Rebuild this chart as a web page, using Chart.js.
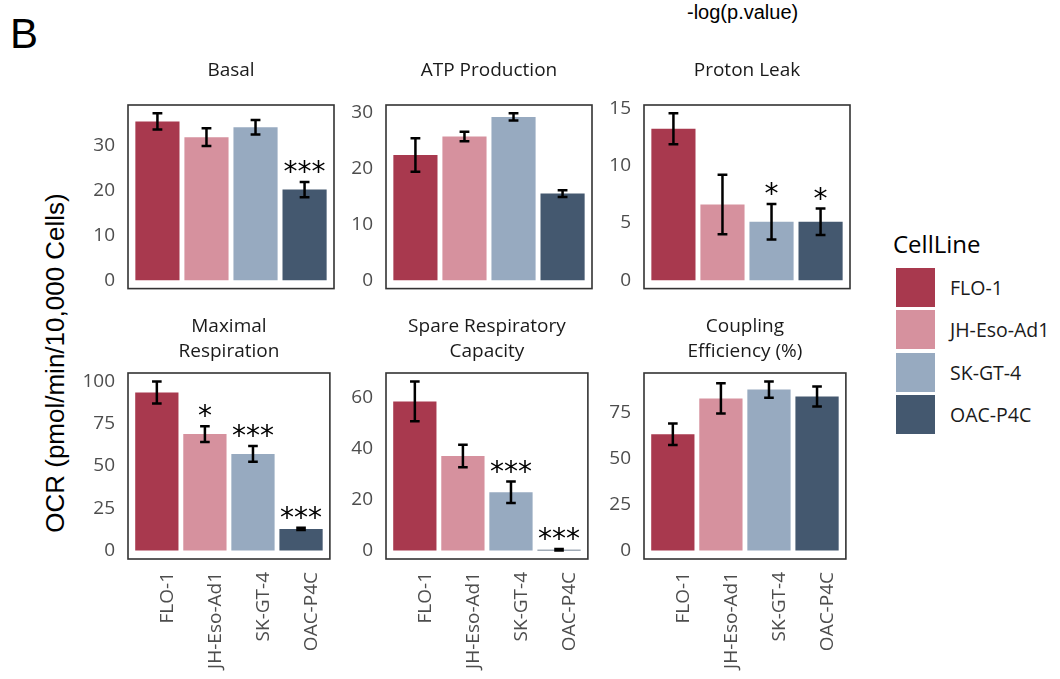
<!DOCTYPE html>
<html>
<head>
<meta charset="utf-8">
<script src="https://cdn.jsdelivr.net/npm/chart.js@4.4.1/dist/chart.umd.min.js"></script>
<style>
  body { margin: 0; width: 1060px; height: 679px; background: #fff; position: relative; overflow: hidden; }
  canvas, .txt { position: absolute; }
  .txt { line-height: 1; white-space: nowrap; color: #000; }
  #panelLetter { left: 10px; top: 10px; font: 42px "Liberation Sans", Arial, sans-serif; }
  #pLabel { left: 687px; top: 1px; font: 20px "Liberation Sans", Arial, sans-serif; }
  #yLabel { left: 55px; top: 363px; font: 26px "Liberation Sans", Arial, sans-serif; transform: translate(-50%, -50%) rotate(-90deg); }
  #legendTitle { left: 893px; top: 227px; font: 24px "Open Sans", sans-serif; }
  .key { position: absolute; width: 39px; height: 39px; left: 896px; }
  .keyLabel { position: absolute; left: 950px; font: 19.5px "Open Sans", sans-serif; color: #1a1a1a; line-height: 39px; }
</style>
</head>
<body>
<div class="txt" id="panelLetter">B</div>
<div class="txt" id="pLabel">-log(p.value)</div>
<div class="txt" id="yLabel">OCR (pmol/min/10,000 Cells)</div>
<div class="txt" id="legendTitle">CellLine</div>
<div id="legend"></div>
<script>
const cellLines = ["FLO-1", "JH-Eso-Ad1", "SK-GT-4", "OAC-P4C"];
const barColors = ["#a8394e", "#d6919e", "#97aac0", "#44586f"];

// Basal
const basalMean = [35.4, 31.9, 34.1, 20.2];
const basalSd = [1.8, 2.0, 1.6, 1.7];
const basalSig = ["", "", "", "***"];
const basalTicks = [0, 10, 20, 30];

// ATP Production
const atpMean = [22.4, 25.7, 29.2, 15.5];
const atpSd = [3.0, 0.85, 0.65, 0.6];
const atpSig = ["", "", "", ""];
const atpTicks = [0, 10, 20, 30];

// Proton Leak
const leakMean = [13.2, 6.6, 5.1, 5.1];
const leakSd = [1.35, 2.6, 1.55, 1.15];
const leakSig = ["", "", "*", "*"];
const leakTicks = [0, 5, 10, 15];

// Maximal Respiration
const maxMean = [93.4, 68.8, 57.1, 12.8];
const maxSd = [6.5, 4.6, 4.6, 0.6];
const maxSig = ["", "*", "***", "***"];
const maxTicks = [0, 25, 50, 75, 100];

// Spare Respiratory Capacity
const spareMean = [58.4, 37.0, 22.8, 0.3];
const spareSd = [7.8, 4.4, 4.2, 0.3];
const spareSig = ["", "", "***", "***"];
const spareTicks = [0, 20, 40, 60];

// Coupling Efficiency
const coupMean = [63.0, 82.4, 87.2, 83.5];
const coupSd = [5.8, 8.2, 4.4, 5.4];
const coupSig = ["", "", "", ""];
const coupTicks = [0, 25, 50, 75];

const panels = [
    { title: ["Basal"], mean: basalMean, sd: basalSd, sig: basalSig, ticks: basalTicks },
    { title: ["ATP Production"], mean: atpMean, sd: atpSd, sig: atpSig, ticks: atpTicks },
    { title: ["Proton Leak"], mean: leakMean, sd: leakSd, sig: leakSig, ticks: leakTicks },
    { title: ["Maximal", "Respiration"], mean: maxMean, sd: maxSd, sig: maxSig, ticks: maxTicks },
    { title: ["Spare Respiratory", "Capacity"], mean: spareMean, sd: spareSd, sig: spareSig, ticks: spareTicks },
    { title: ["Coupling", "Efficiency (%)"], mean: coupMean, sd: coupSd, sig: coupSig, ticks: coupTicks }
];

// layout of the facet grid
const boxLeft = [128, 386, 644];
const rowTop = [40, 300];
const rowHeight = [273, 379];
const yAxisWidth = 60;

// Legend
const legend = document.getElementById("legend");
cellLines.forEach((name, i) => {
    const top = 268 + i * 42.4;
    const key = document.createElement("div");
    key.className = "key";
    key.style.top = top + "px";
    key.style.background = barColors[i];
    legend.appendChild(key);
    const lab = document.createElement("div");
    lab.className = "keyLabel";
    lab.style.top = top + "px";
    lab.innerText = name;
    legend.appendChild(lab);
});

// ggplot-like y range: data incl. zero, plus 5% each side
function yRange(mean, sd) {
    let lo = 0, hi = 0;
    mean.forEach((m, i) => {
        lo = Math.min(lo, m - sd[i]);
        hi = Math.max(hi, m + sd[i]);
    });
    const pad = (hi - lo) * 0.05;
    return { min: lo - pad, max: hi + pad };
}

const framePlugin = {
    id: "frame",
    afterDraw(chart) {
        const a = chart.chartArea;
        const ctx = chart.ctx;
        ctx.save();
        ctx.strokeStyle = "#333333";
        ctx.lineWidth = 1.6;
        ctx.strokeRect(a.left, a.top, a.right - a.left, a.bottom - a.top);
        ctx.restore();
    }
};

const errorBarPlugin = {
    id: "errbars",
    afterDatasetsDraw(chart) {
        const ctx = chart.ctx;
        const ds = chart.data.datasets[0];
        const x = chart.scales.x;
        const y = chart.scales.y;
        const cap = x.getPixelForValue(1.1) - x.getPixelForValue(1);
        ctx.save();
        ctx.strokeStyle = "#000";
        ctx.lineWidth = 2.5;
        chart.getDatasetMeta(0).data.forEach((bar, i) => {
            const m = ds.data[i].y;
            const hi = y.getPixelForValue(m + ds.sd[i]);
            const lo = y.getPixelForValue(m - ds.sd[i]);
            ctx.beginPath();
            ctx.moveTo(bar.x, hi);
            ctx.lineTo(bar.x, lo);
            ctx.moveTo(bar.x - cap, hi);
            ctx.lineTo(bar.x + cap, hi);
            ctx.moveTo(bar.x - cap, lo);
            ctx.lineTo(bar.x + cap, lo);
            ctx.stroke();
            if (ds.sig[i]) {
                ctx.fillStyle = "#000";
                ctx.font = '28px "DejaVu Sans"';
                ctx.textAlign = "center";
                ctx.textBaseline = "alphabetic";
                ctx.fillText(ds.sig[i], bar.x, hi - 1);
            }
        });
        ctx.restore();
    }
};

panels.forEach((p, i) => {
    const col = i % 3;
    const row = Math.floor(i / 3);
    const canvas = document.createElement("canvas");
    canvas.width = yAxisWidth + 206 + 4;
    canvas.height = rowHeight[row];
    canvas.style.left = (boxLeft[col] - yAxisWidth) + "px";
    canvas.style.top = rowTop[row] + "px";
    document.body.appendChild(canvas);

    const range = yRange(p.mean, p.sd);
    const tickFont = { family: "Open Sans", size: 19 };

    new Chart(canvas, {
        type: "bar",
        data: {
            datasets: [{
                data: p.mean.map((v, k) => ({ x: k + 1, y: v })),
                backgroundColor: barColors,
                borderWidth: 0,
                barPercentage: 0.9,
                categoryPercentage: 1,
                sd: p.sd,
                sig: p.sig
            }]
        },
        options: {
            responsive: false,
            animation: false,
            layout: { padding: { left: 0, right: 4, top: 0, bottom: row === 0 ? 12 : 0 } },
            plugins: {
                legend: { display: false },
                tooltip: { enabled: false },
                title: {
                    display: true,
                    text: p.title,
                    fullSize: false,
                    color: "#1a1a1a",
                    font: { family: "Open Sans", size: 19, weight: "normal", lineHeight: "25px" },
                    padding: row === 0 ? { top: 18.5, bottom: 21.5 } : { top: 14.5, bottom: 8.5 }
                }
            },
            scales: {
                x: {
                    type: "linear",
                    min: 0.4,
                    max: 4.6,
                    offset: false,
                    display: row === 1,
                    grid: { display: false, drawTicks: false },
                    border: { display: false },
                    afterBuildTicks: a => { a.ticks = cellLines.map((c, k) => ({ value: k + 1 })); },
                    afterFit: a => { a.height = row === 1 ? 120 : 0; },
                    ticks: {
                        autoSkip: false,
                        minRotation: 90,
                        maxRotation: 90,
                        padding: 13,
                        labelOffset: 11,
                        color: "#4d4d4d",
                        font: tickFont,
                        callback: (v, k) => cellLines[k]
                    }
                },
                y: {
                    min: range.min,
                    max: range.max,
                    grid: { display: false, drawTicks: false },
                    border: { display: false },
                    afterBuildTicks: a => { a.ticks = p.ticks.map(v => ({ value: v })); },
                    afterFit: a => { a.width = yAxisWidth; },
                    ticks: {
                        padding: 13,
                        color: "#4d4d4d",
                        font: tickFont,
                        callback: v => v
                    }
                }
            }
        },
        plugins: [framePlugin, errorBarPlugin]
    });
});
</script>
</body>
</html>
